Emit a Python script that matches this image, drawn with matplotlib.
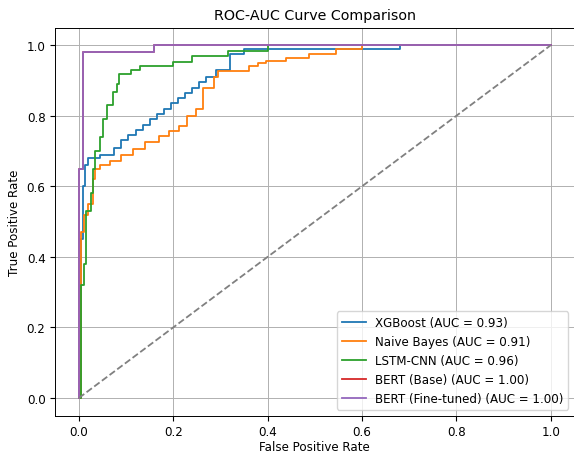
import matplotlib
matplotlib.use("Agg")
import matplotlib.pyplot as plt

# ROC points (fpr, tpr)
xgb_fpr = [0, 0.005, 0.005, 0.008, 0.008, 0.012, 0.012, 0.02, 0.02, 0.045, 0.045, 0.075,
           0.075, 0.09, 0.09, 0.105, 0.105, 0.12, 0.12, 0.135, 0.135, 0.15, 0.15, 0.165,
           0.165, 0.18, 0.18, 0.195, 0.195, 0.21, 0.21, 0.225, 0.225, 0.24, 0.24, 0.255,
           0.255, 0.27, 0.27, 0.29, 0.29, 0.32, 0.32, 0.35, 0.35, 0.68, 0.68, 1.0]
xgb_tpr = [0, 0, 0.45, 0.45, 0.60, 0.60, 0.66, 0.66, 0.68, 0.68, 0.69, 0.69,
           0.71, 0.71, 0.73, 0.73, 0.745, 0.745, 0.76, 0.76, 0.775, 0.775, 0.79, 0.79,
           0.805, 0.805, 0.82, 0.82, 0.835, 0.835, 0.85, 0.85, 0.865, 0.865, 0.88, 0.88,
           0.895, 0.895, 0.91, 0.91, 0.93, 0.93, 0.975, 0.975, 0.99, 0.99, 1.0, 1.0]

nb_fpr = [0, 0.005, 0.005, 0.01, 0.01, 0.02, 0.02, 0.03, 0.03, 0.035, 0.035, 0.045,
          0.045, 0.065, 0.065, 0.09, 0.09, 0.114, 0.114, 0.14, 0.14, 0.17, 0.17, 0.19,
          0.19, 0.213, 0.213, 0.23, 0.23, 0.248, 0.248, 0.262, 0.262, 0.287, 0.287, 0.294,
          0.294, 0.36, 0.36, 0.38, 0.38, 0.396, 0.396, 0.44, 0.44, 0.487, 0.487, 0.544,
          0.544, 0.6, 0.6, 1.0]
nb_tpr = [0, 0, 0.47, 0.47, 0.52, 0.52, 0.55, 0.55, 0.62, 0.62, 0.65, 0.65,
          0.66, 0.66, 0.672, 0.672, 0.69, 0.69, 0.705, 0.705, 0.725, 0.725, 0.743, 0.743,
          0.757, 0.757, 0.77, 0.77, 0.80, 0.80, 0.82, 0.82, 0.88, 0.88, 0.91, 0.91,
          0.927, 0.927, 0.94, 0.94, 0.95, 0.95, 0.955, 0.955, 0.965, 0.965, 0.975, 0.975,
          0.99, 0.99, 1.0, 1.0]

lstm_fpr = [0, 0.005, 0.005, 0.01, 0.01, 0.015, 0.015, 0.025, 0.025, 0.03, 0.03,
            0.035, 0.035, 0.045, 0.045, 0.051, 0.051, 0.06, 0.06, 0.072, 0.072, 0.08,
            0.08, 0.086, 0.086, 0.11, 0.11, 0.129, 0.129, 0.2, 0.2, 0.24, 0.24, 0.315,
            0.315, 0.4, 0.4, 1.0]
lstm_tpr = [0, 0, 0.32, 0.32, 0.38, 0.38, 0.53, 0.53, 0.58, 0.58, 0.65,
            0.65, 0.70, 0.70, 0.74, 0.74, 0.79, 0.79, 0.83, 0.83, 0.867, 0.867,
            0.89, 0.89, 0.918, 0.918, 0.93, 0.93, 0.94, 0.94, 0.953, 0.953, 0.97, 0.97,
            0.984, 0.984, 1.0, 1.0]

bert_fpr = [0, 0, 0.008, 0.008, 0.16, 0.16, 1.0]
bert_tpr = [0, 0.65, 0.65, 0.98, 0.98, 1.0, 1.0]

bert_ft_fpr = [0, 0, 0.008, 0.008, 0.16, 0.16, 1.0]
bert_ft_tpr = [0, 0.65, 0.65, 0.98, 0.98, 1.0, 1.0]

labels = ["XGBoost (AUC = 0.93)", "Naive Bayes (AUC = 0.91)", "LSTM-CNN (AUC = 0.96)",
          "BERT (Base) (AUC = 1.00)", "BERT (Fine-tuned) (AUC = 1.00)"]

plt.rcParams["font.size"] = 8.6
plt.rcParams["grid.linewidth"] = 0.7
plt.rcParams["axes.linewidth"] = 0.7

fig = plt.figure(figsize=(5.74, 4.56), dpi=100)
ax = fig.add_axes([55.3 / 574, 39.4 / 456, 519 / 574, 388 / 456])

curves = [(xgb_fpr, xgb_tpr), (nb_fpr, nb_tpr), (lstm_fpr, lstm_tpr),
          (bert_fpr, bert_tpr), (bert_ft_fpr, bert_ft_tpr)]
for (fpr, tpr), label in zip(curves, labels):
    ax.plot(fpr, tpr, lw=1.3, label=label)

ax.plot([0, 1], [0, 1], color="gray", linestyle="--", lw=1.3)

ax.set_xlim(-0.05, 1.05)
ax.set_ylim(-0.05, 1.05)
ax.set_xlabel("False Positive Rate", labelpad=1)
ax.set_ylabel("True Positive Rate")
ax.set_title("ROC-AUC Curve Comparison", fontsize=10.3)
ax.legend(loc="lower right")
ax.grid(True)

fig.savefig("out.png", dpi=100)
